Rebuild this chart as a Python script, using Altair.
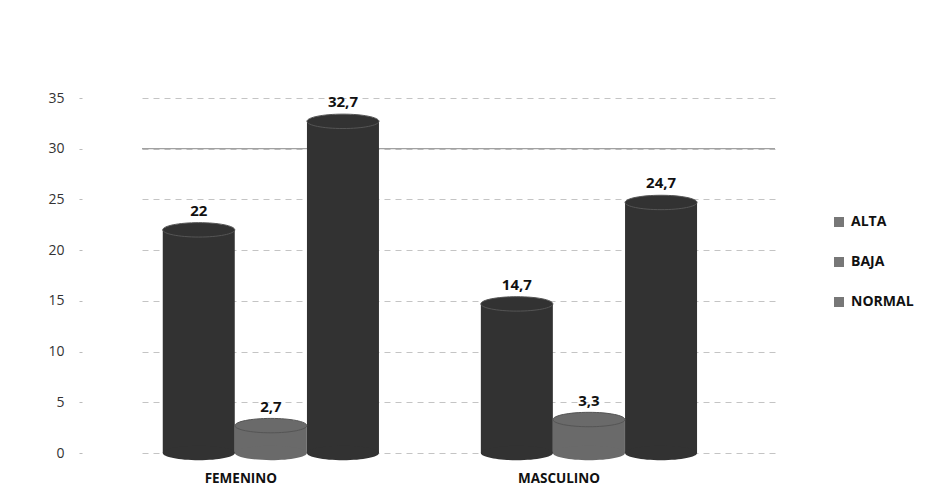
import altair as alt
import pandas as pd

# Datos: porcentaje por género y nivel
generos = ["FEMENINO", "MASCULINO"]
niveles = ["ALTA", "BAJA", "NORMAL"]
femenino = [22, 2.7, 32.7]
masculino = [14.7, 3.3, 24.7]
color_oscuro = "#323232"
color_baja = "#6a6a6a"
y_ticks = [0, 5, 10, 15, 20, 25, 30, 35]
linea_ref = [30]

rows = []
for g, vals in zip(generos, [femenino, masculino]):
    for n, v in zip(niveles, vals):
        rows.append({
            "genero": g,
            "nivel": n,
            "valor": v,
            "cero": 0,
            "etiqueta": f"{v:g}".replace(".", ","),
        })
df = pd.DataFrame(rows)

FONT = "Open Sans"
BAR_W = 72
ELIPSE = "M-1,0 A1,0.2 0 1,0 1,0 A1,0.2 0 1,0 -1,0 Z"

x_enc = alt.X(
    "genero:N",
    sort=generos,
    title=None,
    scale=alt.Scale(paddingInner=0.32, paddingOuter=0.155, align=0.21),
    axis=alt.Axis(
        labelAngle=0,
        labelFont=FONT,
        labelFontWeight="bold",
        labelFontSize=13.5,
        labelColor="#111111",
        labelPadding=18,
        labelOffset=-30,
        ticks=False,
        domain=False,
    ),
)
xo_enc = alt.XOffset("nivel:N", sort=niveles, scale=alt.Scale(paddingInner=0))
y_scale = alt.Scale(domain=[0, 35], nice=False)
color_enc = alt.condition(
    alt.datum.nivel == "BAJA", alt.value(color_baja), alt.value(color_oscuro)
)

base = alt.Chart(df).encode(x=x_enc, xOffset=xo_enc)

ref = alt.Chart(pd.DataFrame({"y": linea_ref})).mark_rule(
    color="#8a8a8a", strokeWidth=1
).encode(y=alt.Y("y:Q", scale=y_scale))

# Leyenda con muestras grises uniformes (marcas ocultas tras las barras)
leyenda = base.mark_point(filled=True, size=60, color="#777777", opacity=1).encode(
    y=alt.Y("cero:Q", scale=y_scale),
    shape=alt.Shape(
        "nivel:N",
        sort=niveles,
        scale=alt.Scale(domain=niveles, range=["square", "square", "square"]),
        title=None,
        legend=alt.Legend(
            orient="none",
            legendX=690,
            legendY=117,
            symbolSize=100,
            symbolFillColor="#777777",
            symbolStrokeWidth=0,
            labelFont=FONT,
            labelFontWeight="bold",
            labelFontSize=14,
            labelColor="#111111",
            rowPadding=26,
            labelOffset=5,
        ),
    ),
)

barras = base.mark_bar(width=BAR_W).encode(
    y=alt.Y(
        "valor:Q",
        scale=y_scale,
        title=None,
        axis=alt.Axis(
            values=y_ticks,
            labelFont=FONT,
            labelFontSize=14,
            labelColor="#333333",
            domain=False,
            tickColor="#bbbbbb",
            tickSize=3,
            offset=60,
            labelPadding=15,
            gridColor="#c4c4c4",
            gridDash=[6, 5],
        ),
    ),
    y2="cero:Q",
    color=color_enc,
)

fondo = base.mark_point(shape=ELIPSE, size=BAR_W * BAR_W, filled=True, opacity=1).encode(
    y=alt.Y("cero:Q", scale=y_scale),
    color=color_enc,
)

tapa = base.mark_point(
    shape=ELIPSE, size=BAR_W * BAR_W, filled=True, opacity=1,
    stroke="#555555", strokeWidth=1,
).encode(
    y=alt.Y("valor:Q", scale=y_scale),
    color=color_enc,
)

textos = base.mark_text(
    font=FONT, fontWeight="bold", fontSize=15, color="#111111", dy=-19
).encode(
    y=alt.Y("valor:Q", scale=y_scale),
    text="etiqueta:N",
)

chart = alt.layer(ref, leyenda, barras, fondo, tapa, textos).properties(
    width=633,
    height=355,
    autosize=alt.AutoSizeParams(type="none"),
    padding={"left": 142, "top": 98, "right": 162, "bottom": 46},
    background="white",
).configure_view(stroke=None)

chart.save("out.html", embed_options={"renderer": "svg", "actions": False})
